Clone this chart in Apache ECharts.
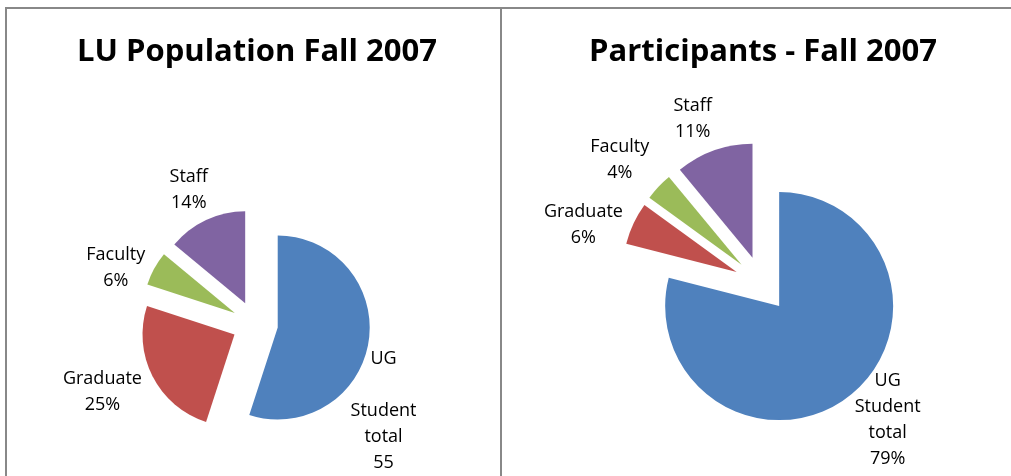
<!DOCTYPE html>
<html>
<head>
<meta charset="utf-8">
<title>LU Population / Participants - Fall 2007</title>
<script src="https://cdn.jsdelivr.net/npm/echarts@6/dist/echarts.min.js"></script>
<style>
  html, body { margin: 0; padding: 0; background: #fff; }
  #chart { width: 1011px; height: 476px; }
</style>
</head>
<body>
<div id="chart"></div>
<script>
  // slice order: UG student total, Graduate, Faculty, Staff
  var sliceNames = ['UG\nStudent\ntotal', 'Graduate', 'Faculty', 'Staff'];
  var sliceColors = ['#4F81BD', '#C0504D', '#9BBB59', '#8064A2'];

  // LU Population Fall 2007 (%)
  var luValues = [55, 25, 6, 14];
  // Participants - Fall 2007 (%)
  var partValues = [79, 6, 4, 11];

  var titleLeft = 'LU Population Fall 2007';
  var titleRight = 'Participants - Fall 2007';

  var FONT = '"Open Sans", Lato, sans-serif';

  // label placement: [angle shift in deg, distance from pie centre]
  var luLabelPos = [[25, 155], [3, 167], [-7, 150], [-1, 150]];
  var partLabelPos = [[-5, 185], [-7, 188], [-2, 189], [-3, 179]];

  function midAngles(values) {
    var total = values.reduce(function (a, b) { return a + b; }, 0);
    var acc = 0;
    return values.map(function (v) {
      var m = (acc + v / 2) / total * 360;
      acc += v;
      return m;
    });
  }

  // exploded slices, no labels
  function makePie(values, center, radius, offset) {
    return {
      type: 'pie',
      center: center,
      radius: radius,
      startAngle: 90,
      clockwise: true,
      selectedMode: 'multiple',
      selectedOffset: offset,
      animation: false,
      emphasis: { disabled: true },
      label: { show: false },
      labelLine: { show: false },
      data: values.map(function (v, i) {
        return {
          name: sliceNames[i],
          value: v,
          selected: true,
          itemStyle: { color: sliceColors[i] }
        };
      })
    };
  }

  // same pie, invisible, only carries the data labels
  function makeLabels(values, center, radius, labelPos, leftChart) {
    var mids = midAngles(values);
    return {
      type: 'pie',
      center: center,
      radius: radius,
      startAngle: 90,
      clockwise: true,
      silent: true,
      animation: false,
      itemStyle: { color: 'rgba(0,0,0,0)' },
      data: values.map(function (v, i) {
        return { name: sliceNames[i], value: v };
      }),
      label: {
        show: true,
        position: 'outside',
        color: '#000',
        fontFamily: FONT,
        fontSize: 18,
        lineHeight: 26,
        formatter: function (p) {
          if (leftChart && p.dataIndex === 0) {
            // the source picture shows this one as "UG / Student total / 55"
            return 'UG\n\nStudent\ntotal\n' + p.value;
          }
          return p.name + '\n' + p.value + '%';
        }
      },
      labelLine: { show: false },
      labelLayout: function (params) {
        var i = params.dataIndex;
        var a = (mids[i] + labelPos[i][0]) * Math.PI / 180;
        var d = labelPos[i][1];
        return {
          x: center[0] + Math.sin(a) * d,
          y: center[1] - Math.cos(a) * d,
          align: 'center',
          verticalAlign: 'middle'
        };
      }
    };
  }

  var chart = echarts.init(document.getElementById('chart'));

  var option = {
    backgroundColor: '#fff',
    animation: false,
    title: [
      {
        text: titleLeft, left: 252, top: 32, textAlign: 'center',
        textStyle: { fontFamily: FONT, fontSize: 31, fontWeight: 'bold', color: '#000' }
      },
      {
        text: titleRight, left: 758, top: 32, textAlign: 'center',
        textStyle: { fontFamily: FONT, fontSize: 31, fontWeight: 'bold', color: '#000' }
      }
    ],
    graphic: [
      { type: 'line', shape: { x1: 5, y1: 8, x2: 1011, y2: 8 }, style: { stroke: '#888', lineWidth: 2 } },
      { type: 'line', shape: { x1: 6, y1: 7, x2: 6, y2: 476 }, style: { stroke: '#888', lineWidth: 2 } },
      { type: 'line', shape: { x1: 501, y1: 7, x2: 501, y2: 476 }, style: { stroke: '#888', lineWidth: 2 } }
    ],
    series: [
      makePie(luValues, [255, 324], 92, 23),
      makePie(partValues, [762, 284], 114, 28),
      makeLabels(luValues, [255, 324], 92, luLabelPos, true),
      makeLabels(partValues, [762, 284], 114, partLabelPos, false)
    ]
  };

  chart.setOption(option);
</script>
</body>
</html>
